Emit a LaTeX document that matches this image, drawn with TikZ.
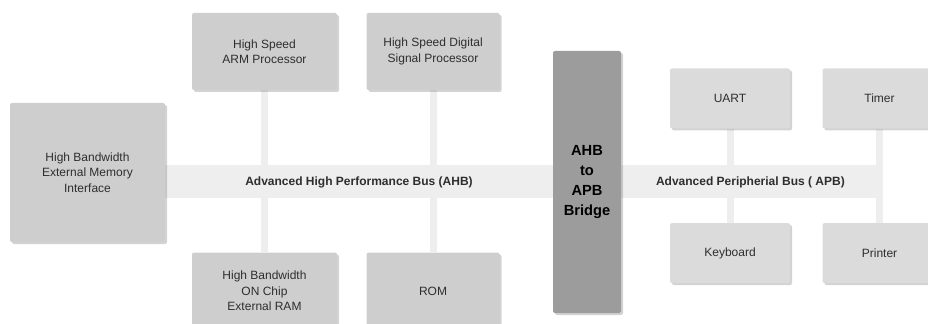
\documentclass[tikz,border=0pt]{standalone}
\usepackage{fontspec}
\setmainfont{Liberation Sans}
\usetikzlibrary{positioning, shadows, backgrounds}
\definecolor{SOC1}{HTML}{CECECE}
\definecolor{SOC2}{HTML}{DBDBDB}
\definecolor{SOC3}{HTML}{9C9C9C}
\definecolor{SOC4}{HTML}{EEEEEE}
\definecolor{SOC5}{HTML}{2E2E2E}
\tikzstyle{core} = [rectangle, rounded corners=1.5pt, minimum width=108.75pt, minimum height=57.75pt, text centered, align=center, fill=SOC1, text=SOC5, font=\fontsize{9}{11.5}\selectfont, drop shadow={shadow xshift=1.5pt, shadow yshift=-1.5pt, opacity=0.35}]
\tikzstyle{periph} = [core, fill=SOC2, minimum width=90pt, minimum height=45pt]
\tikzstyle{bridgebox} = [core, fill=SOC3, minimum width=51pt, minimum height=196.5pt, text=black, font=\fontsize{11}{15}\selectfont\bfseries]
\tikzstyle{bus} = [draw=SOC4, line width=24.75pt]
\tikzstyle{link} = [draw=SOC4, line width=5.25pt]
\tikzstyle{buslabel} = [text=SOC5, font=\fontsize{9}{11}\selectfont\bfseries]

\begin{document}
\begin{tikzpicture}[x=0.75pt, y=-0.75pt]

\useasboundingbox (0,0) rectangle (928,324);
\clip (0,0) rectangle (928,324);

\node (mem) [core, minimum width=116.25pt, minimum height=104.25pt] at (87.5,172.5) {High Bandwidth\\External Memory\\Interface};

\node (arm) [core] at (264.5,51.5) {High Speed\\ARM Processor};
\node (dsp) [core, right=21.75pt of arm, minimum width=99.75pt] {High Speed Digital\\Signal Processor};
\node (ram) [core, below=121.5pt of arm] {High Bandwidth\\ON Chip\\External RAM};
\node (rom) [core, below=121.5pt of dsp, minimum width=99.75pt] {ROM};

\node (bridge) [bridgebox] at (587,182) {AHB\\to\\APB\\Bridge};

\node (uart) [periph] at (730,98.5) {UART};
\node (timer) [periph, right=24pt of uart, minimum width=85.5pt] {Timer};
\node (kbd) [periph, below=70.5pt of uart] {Keyboard};
\node (prn) [periph, below=70.5pt of timer, minimum width=85.5pt] {Printer};

\begin{pgfonlayer}{background}
\draw [link] (arm) -- (ram);
\draw [link] (dsp) -- (rom);
\draw [link] (uart) -- (kbd);
\draw [link] (timer) -- (prn);

\draw [bus] (bridge.west) -- (bridge.west -| mem.east) node [midway, buslabel] {Advanced High Performance Bus (AHB)};
\draw [bus] (bridge.east) -- (bridge.east -| timer.south) node [midway, buslabel] {Advanced Peripherial Bus ( APB)};
\end{pgfonlayer}

\end{tikzpicture}
\end{document}
